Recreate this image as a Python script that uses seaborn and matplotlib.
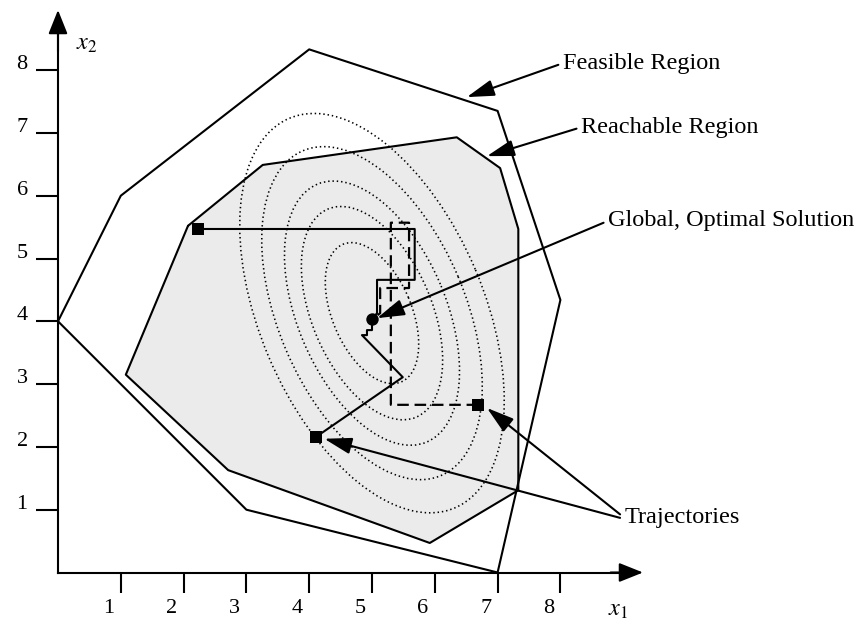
import numpy as np
import pandas as pd
import matplotlib
matplotlib.use("Agg")
import matplotlib.pyplot as plt
from matplotlib.patches import Ellipse, Polygon
from matplotlib.transforms import ScaledTranslation
import seaborn as sns

# ---- chart values -------------------------------------------------------
tick_values = [1, 2, 3, 4, 5, 6, 7, 8]
tick_labels = ["1", "2", "3", "4", "5", "6", "7", "8"]

feasible_x = [0.0, 1.0, 4.0, 7.0, 8.0, 7.0, 3.0, 0.0]
feasible_y = [4.0, 6.0, 8.33, 7.35, 4.34, 0.0, 1.0, 4.0]

reachable_x = [2.07, 3.26, 6.35, 7.04, 7.33, 7.33, 5.92, 2.71, 1.08, 2.07]
reachable_y = [5.52, 6.49, 6.93, 6.44, 5.47, 1.31, 0.47, 1.63, 3.15, 5.52]

# objective iso-lines: nested ellipses around the optimum
optimum = (5.0, 4.03)
contour_center = (5.0, 4.13)
contour_major = [3.37, 2.81, 2.23, 1.80, 1.19]
contour_ratio = 0.53
contour_angle = 113

# search trajectories
traj_a_x = [2.23, 5.68, 5.68, 5.08, 5.08, 5.0]
traj_a_y = [5.47, 5.47, 4.66, 4.66, 4.13, 4.03]
traj_b_x = [4.11, 5.49, 4.84, 4.92, 4.92, 5.0, 5.0]
traj_b_y = [2.16, 3.11, 3.78, 3.78, 3.86, 3.86, 4.03]
traj_c_x = [6.69, 5.30, 5.30, 5.59, 5.59, 5.13, 5.13, 5.0]
traj_c_y = [2.67, 2.67, 5.57, 5.57, 4.53, 4.53, 4.13, 4.03]
start_x = [2.23, 4.11, 6.69]
start_y = [5.47, 2.16, 2.67]

labels = ["Feasible Region", "Reachable Region", "Global, Optimal Solution", "Trajectories"]

# ---- style --------------------------------------------------------------
sns.set_theme(style="white")
plt.rcParams["font.family"] = ["Liberation Serif", "DejaVu Serif"]
plt.rcParams["mathtext.fontset"] = "stix"
plt.rcParams["text.color"] = "black"

W, H, DPI = 865, 623, 100
fig = plt.figure(figsize=(W / DPI, H / DPI), dpi=DPI)
ax = fig.add_axes([0, 0, 1, 1])
ax.set_facecolor("white")

unit = 62.8
ox, oy = 58, 572.5
ax.set_xlim(-ox / unit, (W - ox) / unit)
ax.set_ylim(-(H - oy) / unit, oy / unit)

LW = 1.5
FS = 17.5
TFS = 16

# reachable region fill
ax.add_patch(Polygon(np.column_stack([reachable_x, reachable_y]), closed=True,
                     facecolor="#ebebeb", edgecolor="none", zorder=1))

# objective contours
for a in contour_major:
    ax.add_patch(Ellipse(contour_center, width=2 * a, height=2 * a * contour_ratio,
                         angle=contour_angle, fill=False, edgecolor="black",
                         lw=1.15, linestyle=(0, (0.9, 1.8)), zorder=2))

# region outlines
feas = pd.DataFrame({"x": feasible_x, "y": feasible_y})
reach = pd.DataFrame({"x": reachable_x, "y": reachable_y})
sns.lineplot(data=feas, x="x", y="y", sort=False, estimator=None, color="black",
             lw=LW, ax=ax, zorder=3)
sns.lineplot(data=reach, x="x", y="y", sort=False, estimator=None, color="black",
             lw=LW, ax=ax, zorder=3)

# trajectories
sns.lineplot(x=traj_a_x, y=traj_a_y, sort=False, estimator=None, color="black",
             lw=LW, ax=ax, zorder=4)
sns.lineplot(x=traj_b_x, y=traj_b_y, sort=False, estimator=None, color="black",
             lw=LW, ax=ax, zorder=4)
ax.plot(traj_c_x, traj_c_y, color="black", lw=1.6, dashes=(5.2, 2.6), zorder=4)

sns.scatterplot(x=start_x, y=start_y, marker="s", s=64, color="black",
                edgecolor="black", linewidth=0, ax=ax, zorder=5)
sns.scatterplot(x=[optimum[0]], y=[optimum[1]], marker="o", s=80, color="black",
                edgecolor="black", linewidth=0, ax=ax, zorder=5)

# axes drawn as arrows through the origin
for side in ["top", "right"]:
    ax.spines[side].set_visible(False)
for side in ["left", "bottom"]:
    ax.spines[side].set_position(("data", 0))
    ax.spines[side].set_color("black")
    ax.spines[side].set_linewidth(1.5)
ax.spines["left"].set_bounds(0, 8.6)
ax.spines["bottom"].set_bounds(0, 9.0)

x_tip = (643 - ox) / unit
y_tip = (oy - 10) / unit
axis_arrow = dict(arrowstyle="-|>,head_length=1.05,head_width=0.42", lw=1.5,
                  color="black", shrinkA=0, shrinkB=0, mutation_scale=14)
ax.annotate("", xy=(0, y_tip), xytext=(0, 8.3), arrowprops=axis_arrow, zorder=6)
ax.annotate("", xy=(x_tip, 0), xytext=(8.8, 0), arrowprops=axis_arrow, zorder=6)

ax.set_xticks(tick_values)
ax.set_xticklabels(tick_labels)
ax.set_yticks(tick_values)
ax.set_yticklabels(tick_labels)
ax.tick_params(axis="x", direction="out", length=14.4, width=1.5, pad=5,
               labelsize=TFS, colors="black", bottom=True)
ax.tick_params(axis="y", direction="out", length=15.8, width=1.5, pad=6,
               labelsize=TFS, colors="black", left=True)
for lab in ax.get_xticklabels():
    lab.set_transform(lab.get_transform() + ScaledTranslation(-12 / DPI, 0, fig.dpi_scale_trans))
for lab in ax.get_yticklabels():
    lab.set_transform(lab.get_transform() + ScaledTranslation(0, 8 / DPI, fig.dpi_scale_trans))
ax.set_xlabel("")
ax.set_ylabel("")

ax.text(0.46, 8.40, "$x_2$", fontsize=FS, ha="center", va="center")
ax.text(8.92, -0.61, "$x_1$", fontsize=FS, ha="center", va="center")

# callouts
arrow = dict(arrowstyle="-|>,head_length=1.2,head_width=0.36", lw=LW, color="black",
             shrinkA=1, shrinkB=0, mutation_scale=14, relpos=(0, 0.5))
ax.annotate(labels[0], xy=(6.51, 7.57), xytext=(8.04, 8.11), fontsize=FS,
            ha="left", va="center", arrowprops=arrow, zorder=6)
ax.annotate(labels[1], xy=(6.83, 6.63), xytext=(8.33, 7.09), fontsize=FS,
            ha="left", va="center", arrowprops=arrow, zorder=6)
ax.annotate(labels[2], xy=(5.08, 4.05), xytext=(8.76, 5.60), fontsize=FS,
            ha="left", va="center", arrowprops=arrow, zorder=6)
ax.annotate(labels[3], xy=(6.83, 2.62), xytext=(9.02, 0.87), fontsize=FS,
            ha="left", va="center", arrowprops=arrow, zorder=6)
ax.annotate("", xy=(4.24, 2.13), xytext=(8.95, 0.87), arrowprops=dict(arrow, shrinkA=0),
            zorder=6)

legend = ax.get_legend()
if legend is not None:
    legend.remove()

fig.savefig("out.png", dpi=DPI, facecolor="white")
